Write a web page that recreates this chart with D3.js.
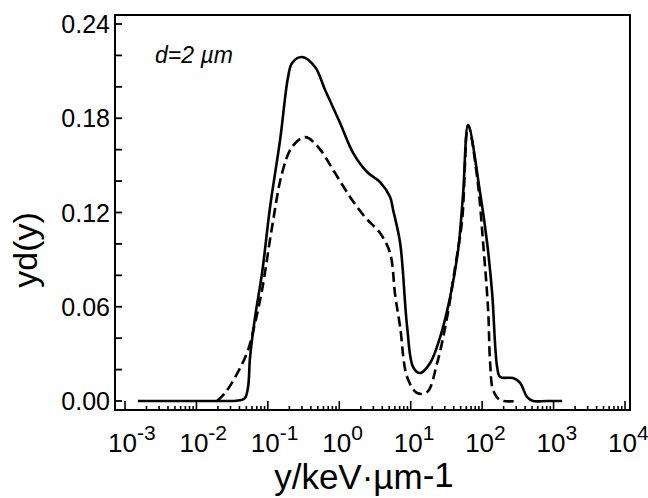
<!DOCTYPE html>
<html>
<head>
<meta charset="utf-8">
<script src="https://cdn.jsdelivr.net/npm/d3@7"></script>
<style>
  body { margin: 0; background: #fff; }
  text { font-family: "Liberation Sans", Arial, sans-serif; fill: #000; }
</style>
</head>
<body>
<script>
// solid curve: log10(y) and yd(y)
var solidLogY = [-2.82, -2.2, -1.6, -1.487, -1.375, -1.319, -1.277, -1.249, -1.179, -1.081, -0.969, -0.829, -0.717, -0.661, -0.521, -0.339, -0.199, 0.011, 0.193, 0.389, 0.571, 0.711, 0.754, 0.852, 0.95, 1.034, 1.132, 1.272, 1.412, 1.552, 1.664, 1.734, 1.804, 1.972, 2.07, 2.14, 2.21, 2.252, 2.434, 2.532, 2.63, 2.714, 2.9, 3.12];
var solidVal  = [0, 0, 0, 0, 0.0006, 0.0019, 0.0089, 0.028, 0.0535, 0.0815, 0.1235, 0.1661, 0.2062, 0.2152, 0.219, 0.2126, 0.198, 0.177, 0.158, 0.1458, 0.1394, 0.1299, 0.1216, 0.1006, 0.0471, 0.0216, 0.0178, 0.0242, 0.0407, 0.0662, 0.0961, 0.1324, 0.1757, 0.1324, 0.1006, 0.0687, 0.0216, 0.0153, 0.0146, 0.0115, 0.0025, 0, 0, 0];

// dashed curve
var dashLogY = [-1.711, -1.599, -1.417, -1.277, -1.179, -1.081, -0.941, -0.801, -0.661, -0.479, -0.297, -0.059, 0.151, 0.361, 0.571, 0.711, 0.782, 0.852, 0.95, 1.09, 1.23, 1.37, 1.51, 1.622, 1.72, 1.804, 1.93, 2.014, 2.084, 2.112, 2.154, 2.252, 2.49];
var dashVal  = [0, 0.0051, 0.0185, 0.0325, 0.0497, 0.0707, 0.1108, 0.1451, 0.1617, 0.168, 0.1617, 0.1451, 0.1299, 0.117, 0.1069, 0.0942, 0.0675, 0.0471, 0.0153, 0.0051, 0.0057, 0.0242, 0.0535, 0.0853, 0.1152, 0.1757, 0.1426, 0.1006, 0.0579, 0.0242, 0.007, 0.0006, 0];

var yTickLabels = ["0.00", "0.06", "0.12", "0.18", "0.24"];
var xExponents = ["-3", "-2", "-1", "0", "1", "2", "3", "4"];

var width = 648, height = 498;

var svg = d3.select("body").append("svg")
    .attr("width", width)
    .attr("height", height);

var x = d3.scaleLog().domain([1e-3, 1e4]).range([125, 625]);
var y = d3.scaleLinear().domain([0, 0.24]).range([401, 24]);

var frame = {left: 115, right: 630, top: 15, bottom: 410};

// frame
svg.append("rect")
    .attr("x", frame.left).attr("y", frame.top)
    .attr("width", frame.right - frame.left)
    .attr("height", frame.bottom - frame.top)
    .attr("fill", "none").attr("stroke", "#000").attr("stroke-width", 2);

// y ticks every 0.02, pointing inward
var yTicks = d3.range(0, 13).map(function (i) { return i * 0.02; });
svg.selectAll(".ytick").data(yTicks).enter().append("line")
    .attr("x1", frame.left).attr("x2", frame.left + 7)
    .attr("y1", function (d) { return y(d); })
    .attr("y2", function (d) { return y(d); })
    .attr("stroke", "#000").attr("stroke-width", 1.8);

svg.selectAll(".ylab").data(yTickLabels).enter().append("text")
    .attr("x", 110)
    .attr("y", function (d) { return y(+d); })
    .attr("dy", "0.36em")
    .attr("text-anchor", "end")
    .style("font-size", "25px")
    .text(function (d) { return d; });

// x ticks (log), pointing inward
var xTicks = x.ticks();
svg.selectAll(".xtick").data(xTicks).enter().append("line")
    .attr("x1", function (d) { return x(d); })
    .attr("x2", function (d) { return x(d); })
    .attr("y1", frame.bottom)
    .attr("y2", function (d) {
        var major = Math.abs(Math.log10(d) - Math.round(Math.log10(d))) < 1e-6;
        return frame.bottom - (major ? 9 : 4);
    })
    .attr("stroke", "#000").attr("stroke-width", 1.6);

var xl = svg.selectAll(".xlab").data(xExponents).enter().append("text")
    .attr("x", function (d) { return x(Math.pow(10, +d)) - 17; })
    .attr("y", 452)
    .style("font-size", "26px");
xl.append("tspan").text("10");
xl.append("tspan")
    .attr("dy", -12)
    .style("font-size", "21px")
    .text(function (d) { return d; });

// axis titles
var xt = svg.append("text")
    .attr("x", 364).attr("y", 489)
    .attr("text-anchor", "middle")
    .style("font-size", "35px")
    .text("y/keV·µm");
xt.append("tspan").attr("dy", -2).text("-1");

svg.append("text")
    .attr("transform", "translate(37,250) rotate(-90)")
    .attr("text-anchor", "middle")
    .style("font-size", "34px")
    .text("yd(y)");

svg.append("text")
    .attr("x", 155).attr("y", 63)
    .style("font-size", "23px")
    .style("font-style", "italic")
    .text("d=2 µm");

// curves
var line = d3.line()
    .x(function (d) { return x(Math.pow(10, d[0])); })
    .y(function (d) { return y(d[1]); })
    .curve(d3.curveCatmullRom.alpha(0.5));

svg.append("path")
    .datum(d3.zip(solidLogY, solidVal))
    .attr("d", line)
    .attr("fill", "none").attr("stroke", "#000").attr("stroke-width", 2.6);

svg.append("path")
    .datum(d3.zip(dashLogY, dashVal))
    .attr("d", line)
    .attr("fill", "none").attr("stroke", "#000").attr("stroke-width", 2.6)
    .attr("stroke-dasharray", "10,5");
</script>
</body>
</html>
